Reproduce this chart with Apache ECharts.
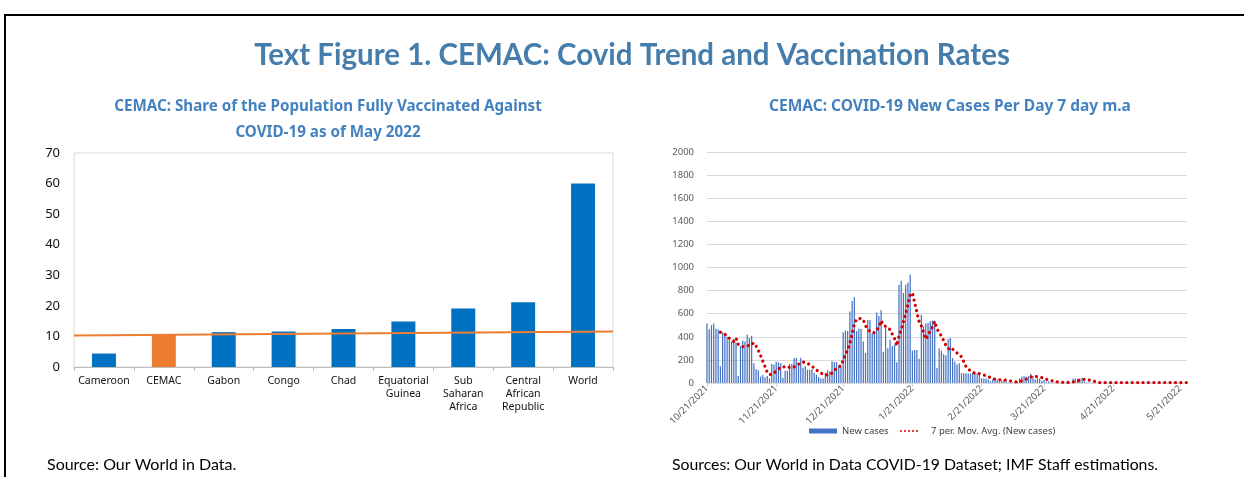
<!DOCTYPE html>
<html>
<head>
<meta charset="utf-8">
<script src="https://cdn.jsdelivr.net/npm/echarts@6/dist/echarts.min.js"></script>
<style>
  html, body { margin: 0; padding: 0; background: #ffffff; }
  #chart { width: 1244px; height: 477px; }
</style>
</head>
<body>
<div id="chart"></div>
<script>
// Left panel: share of population fully vaccinated (%), May 2022
const vaxCategories = ['Cameroon', 'CEMAC', 'Gabon', 'Congo', 'Chad', 'Equatorial\nGuinea',
  'Sub\nSaharan\nAfrica', 'Central\nAfrican\nRepublic', 'World'];
const vaxShare = [4.4, 10.7, 11.4, 11.6, 12.4, 14.9, 19.1, 21.2, 60.0];
const cemacLevel = [10.3, 11.6];          // CEMAC reference line, left and right ends
const vaxAxis = { min: 0, max: 70, step: 10 };

// Right panel: daily new cases in CEMAC from 10/21/2021
const caseStartDate = [2021, 10, 21];
const newCases = [
  515, 465, 500, 515, 470, 465, 145, 440, 420, 400,
  370, 360, 380, 350, 60, 320, 365, 360, 420, 390,
  410, 170, 120, 110, 55, 70, 50, 60, 40, 165,
  160, 185, 178, 172, 45, 105, 105, 165, 165, 215,
  218, 158, 218, 130, 145, 115, 115, 120, 88, 72,
  52, 40, 40, 86, 110, 100, 188, 182, 180, 145,
  138, 440, 455, 450, 620, 710, 745, 450, 470, 470,
  360, 260, 545, 545, 430, 440, 610, 580, 630, 270,
  480, 300, 375, 320, 330, 180, 850, 885, 780, 850,
  870, 940, 280, 285, 285, 210, 590, 490, 515, 520,
  535, 540, 540, 130, 300, 280, 250, 240, 380, 390,
  215, 185, 160, 170, 85, 85, 85, 80, 80, 85,
  85, 85, 70, 40, 40, 40, 30, 15, 35, 30,
  30, 20, 20, 25, 10, 5, 5, 5, 5, 10,
  40, 55, 60, 55, 60, 80, 60, 30, 40, 40,
  20, 25, 10, 15, 5, 4, 6, 5, 3, 5,
  4, 6, 5, 4, 40, 40, 35, 40, 45, 15,
  5, 4, 3, 5, 4, 3, 4, 5, 3, 4,
  3, 4, 5, 3, 4, 3, 5, 4, 3, 4,
  3, 5, 4, 3, 4, 3, 4, 5, 3, 4,
  3, 4, 3, 5, 4, 3, 4, 3, 4, 5,
  3, 4, 3, 4, 3, 4
];
const caseAxis = { min: 0, max: 2000, step: 200 };
const maWindow = 7;

// Date labels (M/D/YYYY) for each day of the series
const caseDates = newCases.map((_, i) => {
  const d = new Date(Date.UTC(caseStartDate[0], caseStartDate[1] - 1, caseStartDate[2] + i));
  return (d.getUTCMonth() + 1) + '/' + d.getUTCDate() + '/' + d.getUTCFullYear();
});

// 7-day trailing moving average of the daily counts
const movingAvg = newCases.map((_, i) => {
  if (i < maWindow - 1) return null;
  let s = 0;
  for (let k = i - maWindow + 1; k <= i; k++) s += newCases[k];
  return +(s / maWindow).toFixed(1);
});

const showMonthTick = (idx, val) => val.split('/')[1] === '21';

const chart = echarts.init(document.getElementById('chart'), null, { renderer: 'canvas' });

const titleBlue = '#467dab';
const subBlue = '#4381bf';

chart.setOption({
  animation: false,
  backgroundColor: '#ffffff',
  title: [
    {
      text: 'Text Figure 1. CEMAC: Covid Trend and Vaccination Rates',
      left: 627, top: 35, textAlign: 'center',
      textStyle: { fontFamily: 'Lato', fontWeight: 'bold', fontSize: 29.5, color: titleBlue }
    },
    {
      text: 'CEMAC: Share of the Population Fully Vaccinated Against\nCOVID-19 as of May 2022',
      left: 323, top: 89, textAlign: 'center',
      textStyle: { fontFamily: 'Noto Sans', fontWeight: 'bold', fontSize: 15.2, lineHeight: 26, color: subBlue }
    },
    {
      text: 'CEMAC: COVID-19 New Cases Per Day 7 day m.a',
      left: 945, top: 89, textAlign: 'center',
      textStyle: { fontFamily: 'Noto Sans', fontWeight: 'bold', fontSize: 15.5, lineHeight: 26, color: subBlue }
    }
  ],
  legend: [
    {
      left: 804, top: 421, itemGap: 0,
      data: [{ name: 'New cases', icon: 'rect' }],
      itemWidth: 28, itemHeight: 5,
      textStyle: { fontFamily: 'Noto Sans', fontSize: 9.5, color: '#404040' }
    },
    {
      left: 895, top: 421, itemGap: 0,
      data: [{ name: '7 per. Mov. Avg. (New cases)',
        icon: 'path://M0,1a1,1 0 1,0 2,0a1,1 0 1,0 -2,0zM4,1a1,1 0 1,0 2,0a1,1 0 1,0 -2,0zM8,1a1,1 0 1,0 2,0a1,1 0 1,0 -2,0zM12,1a1,1 0 1,0 2,0a1,1 0 1,0 -2,0zM16,1a1,1 0 1,0 2,0a1,1 0 1,0 -2,0z' }],
      itemWidth: 18, itemHeight: 2.5,
      textStyle: { fontFamily: 'Noto Sans', fontSize: 9.5, color: '#404040', padding: [0, 0, 0, 8] }
    }
  ],
  grid: [
    { left: 74, right: 631, top: 153, bottom: 110, show: true, borderColor: '#d9d9d9', borderWidth: 1, backgroundColor: 'transparent' },
    { left: 707, right: 57, top: 152, bottom: 94 }
  ],
  xAxis: [
    {
      gridIndex: 0, type: 'category', data: vaxCategories,
      axisLine: { lineStyle: { color: '#bfbfbf', width: 1 } },
      axisTick: { show: true, length: 4, lineStyle: { color: '#bfbfbf' } },
      axisLabel: { fontFamily: 'Noto Sans', fontSize: 10.5, color: '#111111', lineHeight: 13, margin: 8, interval: 0 }
    },
    {
      gridIndex: 0, type: 'category', data: ['a', 'b'], boundaryGap: false, show: false
    },
    {
      gridIndex: 1, type: 'category', data: caseDates, boundaryGap: false,
      axisLine: { lineStyle: { color: '#d9d9d9', width: 1 } },
      axisTick: { show: true, length: 4, interval: showMonthTick, lineStyle: { color: '#d9d9d9' } },
      axisLabel: { interval: showMonthTick, rotate: 45, fontFamily: 'Noto Sans', fontSize: 9.5, color: '#595959', margin: 4 }
    }
  ],
  yAxis: [
    {
      gridIndex: 0, type: 'value', min: vaxAxis.min, max: vaxAxis.max, interval: vaxAxis.step,
      axisLine: { show: false }, axisTick: { show: false }, splitLine: { show: false },
      axisLabel: { fontFamily: 'Noto Sans', fontSize: 13, color: '#111111', margin: 14 }
    },
    {
      gridIndex: 1, type: 'value', min: caseAxis.min, max: caseAxis.max, interval: caseAxis.step,
      axisLine: { show: false }, axisTick: { show: false },
      splitLine: { lineStyle: { color: '#d9d9d9', width: 1 } },
      axisLabel: { fontFamily: 'Noto Sans', fontSize: 9.5, color: '#595959', margin: 13, formatter: v => String(v) }
    }
  ],
  series: [
    {
      type: 'bar', xAxisIndex: 0, yAxisIndex: 0, barWidth: '40%',
      data: vaxShare.map((v, i) => vaxCategories[i] === 'CEMAC'
        ? { value: v, itemStyle: { color: '#ed7d31' } } : v),
      itemStyle: { color: '#0070c0' }
    },
    {
      type: 'line', xAxisIndex: 1, yAxisIndex: 0, data: cemacLevel,
      showSymbol: false, lineStyle: { color: '#ed7d31', width: 2 }, z: 5
    },
    {
      name: 'New cases', type: 'bar', xAxisIndex: 2, yAxisIndex: 1,
      data: newCases, barWidth: '55%',
      itemStyle: { color: '#4472c4' }
    },
    {
      name: '7 per. Mov. Avg. (New cases)', type: 'line', xAxisIndex: 2, yAxisIndex: 1,
      data: movingAvg, showSymbol: false, connectNulls: false,
      itemStyle: { color: '#d40000' },
      lineStyle: { color: '#d40000', width: 3.2, type: [0.01, 5.4], cap: 'round' },
      z: 5
    }
  ],
  graphic: [
    {
      type: 'rect', silent: true, z: 100,
      shape: { x: 5, y: 15, width: 1400, height: 600 },
      style: { fill: 'none', stroke: '#000000', lineWidth: 2 }
    },
    {
      type: 'text', left: 47, top: 457, silent: true,
      style: { text: 'Source: Our World in Data.', font: '16px Lato', fill: '#000000' }
    },
    {
      type: 'text', left: 672, top: 457, silent: true,
      style: { text: 'Sources: Our World in Data COVID-19 Dataset; IMF Staff estimations.', font: '15.8px Lato', fill: '#000000' }
    }
  ]
});
</script>
</body>
</html>
